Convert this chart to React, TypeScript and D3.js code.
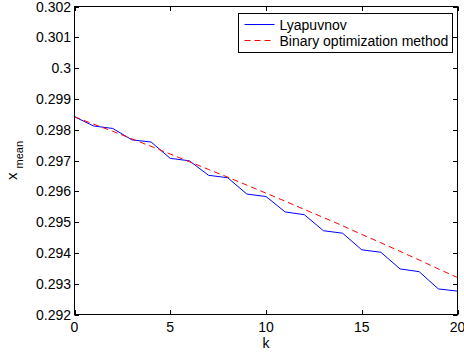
import React from "react";
import * as d3 from "d3";

const kValues = [0,1,2,3,4,5,6,7,8,9,10,11,12,13,14,15,16,17,18,19,20];
const lyapunovValues = [0.29842,0.29812,0.29804,0.29767,0.29760,0.29707,0.29699,0.29652,0.29644,0.29591,0.29583,0.29533,0.29524,0.29472,0.29464,0.29410,0.29402,0.29348,0.29339,0.29283,0.29276];
const binaryValues = [0.29842,0.29818,0.29795,0.29770,0.29746,0.29721,0.29696,0.29671,0.29646,0.29620,0.29594,0.29568,0.29541,0.29515,0.29488,0.29460,0.29433,0.29405,0.29377,0.29348,0.29320];
const xTicks = [0,5,10,15,20];
const yTicks = [0.292,0.293,0.294,0.295,0.296,0.297,0.298,0.299,0.300,0.301,0.302];
const yTickLabels = ["0.292","0.293","0.294","0.295","0.296","0.297","0.298","0.299","0.3","0.301","0.302"];
const seriesNames = ["Lyapuvnov","Binary optimization method"];

const W = 464, H = 358;
const L = 74.5, R = 457.5, T = 6.5, B = 314.5;
const FONT = "'Liberation Sans', Arial, Helvetica, sans-serif";

export default function App() {
  const x = d3.scaleLinear().domain([0, 20]).range([L, R]);
  const y = d3.scaleLinear().domain([0.292, 0.302]).range([B, T]);
  const line = d3.line<number>().x((_, i) => x(kValues[i])).y((d) => y(d));
  const tl = 4.5;

  const legL = 238.5, legR = 452.5, legT = 13.5, legB = 52.5;
  const rows = [24.5, 40.5];

  return (
    <svg width={W} height={H} style={{ position: "absolute", left: 0, top: 0, background: "#fff" }} fontFamily={FONT}>
      <rect x={0} y={0} width={W} height={H} fill="#fff" />
      <defs>
        <clipPath id="clip"><rect x={L} y={T} width={R - L} height={B - T} /></clipPath>
      </defs>
      <g clipPath="url(#clip)">
        <path d={line(lyapunovValues) || ""} fill="none" stroke="#0000ff" strokeWidth={1} />
        <path d={line(binaryValues) || ""} fill="none" stroke="#ff0000" strokeWidth={1} strokeDasharray="6,4" />
      </g>
      <rect x={L} y={T} width={R - L} height={B - T} fill="none" stroke="#000" strokeWidth={1} />
      {xTicks.map((t) => (
        <g key={"x" + t}>
          <line x1={Math.round(x(t)) + 0.5} x2={Math.round(x(t)) + 0.5} y1={B} y2={B - tl} stroke="#000" />
          <line x1={Math.round(x(t)) + 0.5} x2={Math.round(x(t)) + 0.5} y1={T} y2={T + tl} stroke="#000" />
          <text x={x(t)} y={332} fontSize={14} textAnchor="middle" fill="#000">{t}</text>
        </g>
      ))}
      {yTicks.map((t, i) => (
        <g key={"y" + t}>
          <line x1={L} x2={L + tl} y1={Math.round(y(t)) + 0.5} y2={Math.round(y(t)) + 0.5} stroke="#000" />
          <line x1={R} x2={R - tl} y1={Math.round(y(t)) + 0.5} y2={Math.round(y(t)) + 0.5} stroke="#000" />
          <text x={71} y={y(t)} dy="0.36em" fontSize={14} textAnchor="end" fill="#000">{yTickLabels[i]}</text>
        </g>
      ))}
      <text x={(L + R) / 2} y={348} fontSize={14} textAnchor="middle" fill="#000">k</text>
      <text transform={`translate(17, ${(T + B) / 2}) rotate(-90)`} textAnchor="middle" fontSize={15} fill="#000">
        x<tspan fontSize={11} dx="4" dy="6">mean</tspan>
      </text>
      <rect x={legL} y={legT} width={legR - legL} height={legB - legT} fill="#fff" stroke="#000" strokeWidth={1} />
      <line x1={legL + 6} x2={legL + 36} y1={rows[0]} y2={rows[0]} stroke="#0000ff" />
      <line x1={legL + 6} x2={legL + 36} y1={rows[1]} y2={rows[1]} stroke="#ff0000" strokeDasharray="6,4" />
      <text x={legL + 41} y={rows[0]} dy="0.36em" fontSize={14} fill="#000">{seriesNames[0]}</text>
      <text x={legL + 41} y={rows[1]} dy="0.36em" fontSize={14} fill="#000">{seriesNames[1]}</text>
    </svg>
  );
}
